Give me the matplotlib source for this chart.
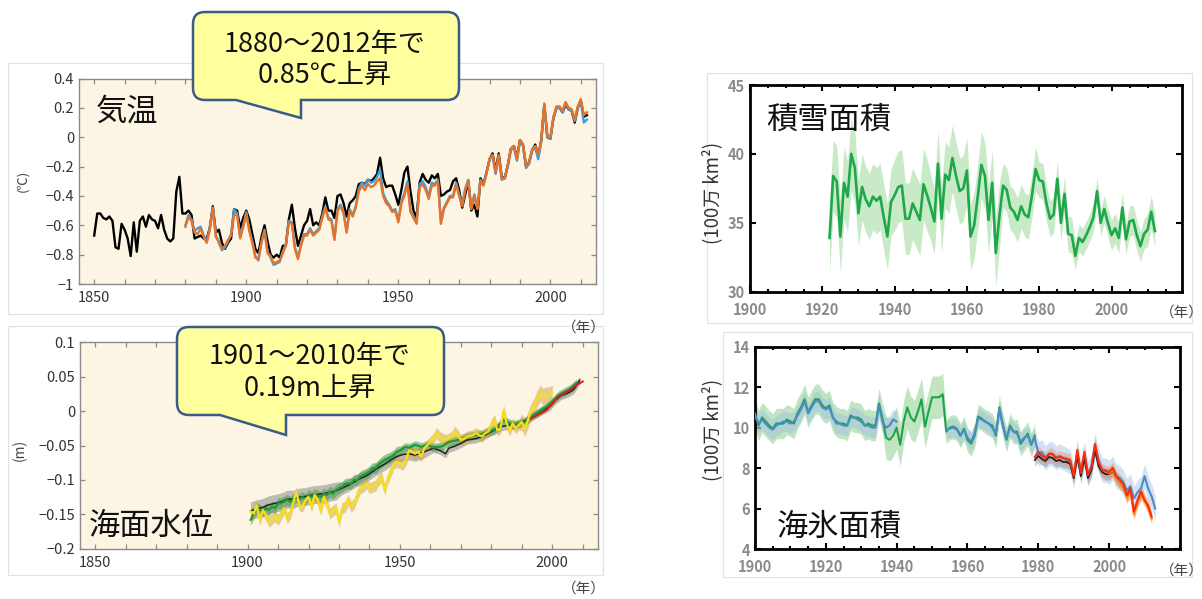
import numpy as np
import matplotlib
matplotlib.use("Agg")
import matplotlib.pyplot as plt
from matplotlib.path import Path
from matplotlib.patches import PathPatch, Rectangle
from matplotlib.ticker import FixedLocator, FuncFormatter, MultipleLocator

plt.rcParams['font.family'] = ['Noto Sans CJK JP', 'DejaVu Sans']
W, H = 1202, 599

# ---------------- data: global mean temperature anomaly (°C) ----------------
temp_black_years = np.arange(1850, 2013)
temp_black = [
    -0.67, -0.52, -0.52, -0.55, -0.56, -0.54, -0.57, -0.75, -0.76, -0.59,
    -0.63, -0.69, -0.81, -0.58, -0.78, -0.57, -0.54, -0.61, -0.53, -0.56,
    -0.57, -0.62, -0.53, -0.63, -0.69, -0.71, -0.69, -0.37, -0.27, -0.52,
    -0.52, -0.50, -0.53, -0.69, -0.68, -0.67, -0.69, -0.69, -0.62, -0.47,
    -0.65, -0.63, -0.72, -0.76, -0.72, -0.69, -0.49, -0.50, -0.62, -0.55,
    -0.50, -0.56, -0.66, -0.76, -0.79, -0.68, -0.60, -0.71, -0.80, -0.82,
    -0.80, -0.82, -0.74, -0.74, -0.56, -0.46, -0.62, -0.74, -0.67, -0.60,
    -0.57, -0.49, -0.60, -0.58, -0.60, -0.52, -0.41, -0.50, -0.50, -0.55,
    -0.40, -0.39, -0.45, -0.54, -0.45, -0.43, -0.40, -0.32, -0.31, -0.32,
    -0.29, -0.30, -0.28, -0.25, -0.14, -0.28, -0.34, -0.33, -0.33, -0.39,
    -0.46, -0.36, -0.24, -0.20, -0.37, -0.50, -0.55, -0.31, -0.25, -0.29,
    -0.31, -0.26, -0.28, -0.25, -0.40, -0.39, -0.37, -0.36, -0.30, -0.28,
    -0.36, -0.48, -0.39, -0.30, -0.50, -0.46, -0.54, -0.28, -0.32, -0.24,
    -0.15, -0.11, -0.23, -0.11, -0.27, -0.28, -0.19, -0.08, -0.06, -0.14,
    -0.02, -0.05, -0.20, -0.17, -0.09, -0.05, -0.13, -0.02, 0.22, 0.00,
    -0.01, 0.13, 0.20, 0.20, 0.17, 0.22, 0.19, 0.18, 0.10, 0.20,
    0.25, 0.14, 0.15]
temp_years = np.arange(1880, 2013)
temp_orange = [
    -0.61, -0.54, -0.57, -0.65, -0.66, -0.62, -0.68, -0.72, -0.63, -0.48,
    -0.68, -0.71, -0.76, -0.74, -0.70, -0.67, -0.53, -0.53, -0.69, -0.61,
    -0.52, -0.64, -0.72, -0.82, -0.83, -0.72, -0.64, -0.79, -0.81, -0.86,
    -0.85, -0.84, -0.79, -0.74, -0.58, -0.59, -0.76, -0.83, -0.74, -0.67,
    -0.67, -0.63, -0.67, -0.65, -0.63, -0.55, -0.48, -0.56, -0.57, -0.70,
    -0.50, -0.47, -0.52, -0.65, -0.50, -0.54, -0.48, -0.37, -0.33, -0.36,
    -0.32, -0.34, -0.33, -0.30, -0.28, -0.40, -0.45, -0.47, -0.51, -0.50,
    -0.58, -0.45, -0.40, -0.32, -0.51, -0.55, -0.59, -0.34, -0.32, -0.36,
    -0.42, -0.33, -0.33, -0.30, -0.59, -0.49, -0.45, -0.41, -0.41, -0.32,
    -0.40, -0.47, -0.36, -0.30, -0.49, -0.40, -0.49, -0.30, -0.33, -0.25,
    -0.15, -0.12, -0.24, -0.12, -0.28, -0.28, -0.19, -0.08, -0.06, -0.15,
    -0.02, -0.05, -0.20, -0.17, -0.08, -0.06, -0.12, -0.02, 0.23, 0.01,
    0.00, 0.14, 0.21, 0.21, 0.18, 0.24, 0.20, 0.19, 0.12, 0.21,
    0.26, 0.15, 0.17]
temp_blue = [
    -0.60, -0.53, -0.56, -0.64, -0.62, -0.61, -0.67, -0.71, -0.62, -0.48,
    -0.67, -0.72, -0.77, -0.75, -0.71, -0.66, -0.49, -0.52, -0.68, -0.60,
    -0.51, -0.63, -0.71, -0.81, -0.84, -0.71, -0.63, -0.78, -0.82, -0.87,
    -0.86, -0.85, -0.78, -0.73, -0.57, -0.58, -0.75, -0.82, -0.73, -0.66,
    -0.66, -0.62, -0.66, -0.64, -0.62, -0.54, -0.47, -0.55, -0.56, -0.69,
    -0.49, -0.46, -0.51, -0.64, -0.49, -0.53, -0.47, -0.35, -0.31, -0.33,
    -0.29, -0.31, -0.30, -0.27, -0.22, -0.38, -0.43, -0.46, -0.50, -0.49,
    -0.57, -0.44, -0.38, -0.30, -0.50, -0.54, -0.58, -0.32, -0.30, -0.34,
    -0.40, -0.31, -0.32, -0.29, -0.57, -0.48, -0.44, -0.40, -0.40, -0.31,
    -0.39, -0.46, -0.35, -0.29, -0.48, -0.39, -0.48, -0.29, -0.32, -0.24,
    -0.15, -0.13, -0.25, -0.13, -0.29, -0.28, -0.20, -0.09, -0.07, -0.16,
    -0.03, -0.06, -0.21, -0.18, -0.09, -0.07, -0.15, -0.03, 0.22, 0.00,
    -0.01, 0.13, 0.20, 0.20, 0.17, 0.23, 0.19, 0.18, 0.11, 0.20,
    0.24, 0.10, 0.12]

# ---------------- data: global mean sea level (m) ----------------
sl_yellow_years = [1901, 1902, 1903, 1904, 1905, 1906, 1907, 1909, 1910, 1911, 1912, 1913, 1914,
                   1916, 1917, 1918, 1919, 1920, 1921, 1922, 1923, 1924, 1925, 1926, 1927,
                   1929, 1930, 1931, 1932, 1933, 1934, 1935, 1936, 1937, 1938, 1939, 1940,
                   1942, 1943, 1944, 1945, 1946, 1947, 1948, 1949,
                   1951, 1952, 1953, 1954, 1955, 1956, 1957, 1958,
                   1960, 1961, 1962, 1963, 1964, 1965, 1966, 1967, 1968, 1969, 1970, 1971, 1972,
                   1974, 1975, 1976, 1977, 1978, 1979, 1980, 1981, 1982, 1983, 1984, 1985, 1986,
                   1987, 1988, 1989, 1990, 1991, 1992, 1993, 1994, 1995, 1996, 1997, 1998, 1999, 2000]
sl_yellow = [-0.146, -0.149, -0.137, -0.158, -0.144, -0.151, -0.161, -0.153, -0.158, -0.151, -0.141, -0.156, -0.149,
             -0.117, -0.137, -0.139, -0.129, -0.125, -0.139, -0.122, -0.129, -0.144, -0.125, -0.134, -0.149,
             -0.141, -0.161, -0.141, -0.139, -0.129, -0.139, -0.134, -0.122, -0.112, -0.110, -0.105, -0.112,
             -0.108, -0.100, -0.096, -0.115, -0.098, -0.088, -0.076, -0.074,
             -0.078, -0.071, -0.057, -0.059, -0.062, -0.059, -0.066, -0.054,
             -0.045, -0.040, -0.032, -0.037, -0.040, -0.042, -0.040, -0.037, -0.030, -0.035, -0.042, -0.040, -0.037,
             -0.035, -0.032, -0.035, -0.037, -0.032, -0.030, -0.020, -0.013, -0.028, -0.025, 0.001, -0.018, -0.028,
             -0.018, -0.025, -0.020, -0.016, -0.025, -0.013, -0.001, 0.006, 0.018, 0.026, 0.021, 0.023, 0.023, 0.026]
sl_green_years = [1901, 1902, 1903, 1905, 1906, 1907, 1908, 1909, 1910, 1911, 1913, 1914, 1915, 1916, 1917,
                  1918, 1919, 1920, 1921, 1922, 1924, 1925, 1926, 1927, 1928, 1929, 1930, 1931, 1932,
                  1934, 1935, 1936, 1937, 1938, 1939, 1940, 1941, 1942, 1943, 1944, 1945, 1947, 1948,
                  1949, 1950, 1951, 1952, 1953, 1954, 1955, 1957, 1959, 1961, 1964, 1966, 1968, 1970,
                  1972, 1975, 1977, 1979, 1981, 1983, 1984, 1987, 1989, 1991, 1993, 1995, 1998, 2000,
                  2002, 2004, 2006, 2008]
sl_green = [-0.158, -0.149, -0.141, -0.146, -0.141, -0.144, -0.139, -0.141, -0.134, -0.134, -0.129, -0.132, -0.128, -0.125, -0.128,
            -0.125, -0.128, -0.122, -0.125, -0.121, -0.125, -0.120, -0.122, -0.117, -0.120, -0.115, -0.112, -0.110, -0.106,
            -0.105, -0.100, -0.100, -0.095, -0.093, -0.091, -0.088, -0.083, -0.083, -0.078, -0.074, -0.071, -0.067, -0.064,
            -0.059, -0.057, -0.054, -0.052, -0.053, -0.051, -0.049, -0.052, -0.049, -0.053, -0.051, -0.045, -0.043, -0.041,
            -0.037, -0.035, -0.033, -0.030, -0.027, -0.018, -0.013, -0.020, -0.018, -0.016, -0.008, -0.003, 0.006, 0.014,
            0.023, 0.028, 0.033, 0.041]
sl_black_years = [1901, 1903, 1905, 1907, 1909, 1911, 1913, 1915, 1917, 1919, 1921, 1923, 1925, 1927, 1929,
                  1931, 1933, 1935, 1937, 1939, 1941, 1943, 1945, 1947, 1949, 1951, 1953, 1955, 1958, 1961,
                  1963, 1965, 1966, 1968, 1970, 1972, 1975, 1977, 1979, 1981, 1983, 1986, 1988, 1990, 1992,
                  1994, 1996, 1999, 2001, 2003, 2005, 2007, 2009]
sl_black = [-0.145, -0.142, -0.140, -0.136, -0.134, -0.132, -0.128, -0.128, -0.125, -0.124, -0.122, -0.121, -0.120, -0.118, -0.116,
            -0.112, -0.108, -0.103, -0.098, -0.094, -0.088, -0.082, -0.077, -0.071, -0.066, -0.063, -0.062, -0.064, -0.059, -0.054,
            -0.057, -0.062, -0.054, -0.051, -0.047, -0.042, -0.040, -0.037, -0.032, -0.028, -0.023, -0.020, -0.020, -0.016, -0.012,
            -0.006, -0.001, 0.006, 0.016, 0.023, 0.026, 0.031, 0.045]
sl_red_years = [1993, 1995, 1998, 2000, 2002, 2004, 2006, 2008, 2010]
sl_red = [-0.011, -0.006, 0.001, 0.011, 0.021, 0.026, 0.031, 0.038, 0.043]
# approximate half-widths of the uncertainty bands by era (start year, value)
sl_gray_err_start, sl_gray_err = [1900, 1930, 1960], [0.013, 0.009, 0.006]
sl_green_err_start, sl_green_err = [1900, 1950], [0.008, 0.006]
sl_yellow_err_start, sl_yellow_err = [1900, 1950, 1990], [0.008, 0.008, 0.012]

# ---------------- data: Northern Hemisphere spring snow cover (million km2) ----------------
snow_years = np.arange(1922, 2013)
snow = [33.9, 38.4, 38.0, 34.0, 37.9, 36.9, 40.0, 39.0,
        35.7, 37.6, 36.7, 36.2, 36.9, 36.6, 36.9, 35.4, 34.0, 36.5,
        37.0, 37.6, 37.7, 35.3, 35.3, 36.4, 35.8, 35.2, 37.8, 37.0,
        36.1, 35.1, 39.3, 35.3, 38.5, 38.1, 39.7, 38.4, 37.3, 37.5,
        38.8, 34.0, 34.8, 36.9, 39.2, 38.4, 35.2, 37.9, 32.8, 35.5,
        37.7, 37.4, 36.1, 35.8, 35.2, 36.2, 35.6, 35.4, 37.0, 38.9,
        38.1, 38.0, 36.4, 35.3, 35.6, 38.2, 35.0, 37.1, 34.2, 34.1,
        32.6, 33.9, 33.6, 34.1, 34.7, 35.4, 37.3, 35.0, 36.0, 35.0,
        34.1, 34.6, 33.9, 36.1, 33.8, 35.1, 35.2, 34.1, 33.3, 34.2,
        34.5, 35.8, 34.4]
snow_err_start = [1920, 1930, 1940, 1950, 1960, 1970, 1980, 1990, 2000, 2010]
snow_err = [2.6, 2.4, 2.6, 2.4, 2.4, 1.6, 1.3, 1.0, 1.1, 1.2]

# ---------------- data: Arctic summer sea-ice extent (million km2) ----------------
ice_green_years = np.arange(1900, 1980)
ice_green = [10.7, 10.1, 10.5, 10.3, 10.1, 9.95, 10.2, 10.2, 10.2, 10.4,
             10.3, 10.2, 10.7, 11.0, 11.4, 10.75, 11.1, 11.4, 11.4, 11.1,
             10.95, 11.1, 10.5, 10.3, 10.2, 10.2, 10.1, 10.6, 10.5, 10.5,
             10.4, 10.1, 10.2, 10.1, 10.1, 11.2, 10.45, 9.5, 9.4, 9.6,
             10.0, 9.15, 10.3, 11.0, 10.5, 10.3, 10.8, 11.4, 10.05, 10.8,
             11.5, 11.5, 11.5, 11.65, 9.8, 10.0, 10.05, 9.95, 9.6, 9.95,
             9.4, 9.2, 9.6, 10.55, 10.45, 10.3, 10.2, 10.1, 9.6, 11.0,
             10.1, 9.4, 10.1, 9.8, 9.8, 9.2, 9.45, 9.7, 9.15, 9.6]
ice_blue_years_a = np.arange(1900, 1941)
ice_blue_a = [10.6, 10.2, 10.4, 10.2, 10.0, 9.9, 10.1, 10.2, 10.3, 10.3,
              10.2, 10.3, 10.6, 10.9, 11.3, 10.7, 11.0, 11.3, 11.3, 11.0,
              10.9, 11.0, 10.5, 10.2, 10.2, 10.1, 10.1, 10.5, 10.5, 10.4,
              10.3, 10.1, 10.1, 10.0, 10.0, 11.1, 10.3, 10.0, 10.1, 10.4,
              10.3]
ice_blue_years_b = np.arange(1954, 2014)
ice_blue_b = [9.9, 9.95, 10.0, 9.9, 9.6, 9.9,
              9.5, 9.3, 9.7, 10.5, 10.4, 10.3, 10.2, 10.0, 9.7, 10.9,
              10.1, 9.5, 10.0, 9.8, 9.7, 9.3, 9.5, 9.6, 9.2, 9.5,
              8.7, 8.8, 8.5, 8.7, 8.7, 8.5, 8.6, 8.5, 8.4, 8.3,
              7.6, 8.8, 7.8, 8.7, 7.7, 8.1, 9.1, 8.4, 7.9, 7.9,
              7.8, 8.0, 7.6, 7.5, 7.3, 6.9, 7.1, 6.5, 6.8, 7.0,
              7.6, 7.0, 6.6, 6.0]
ice_red_years = np.arange(1979, 2013)
ice_red = [8.55,
           8.8, 8.6, 8.5, 8.7, 8.7, 8.5, 8.55, 8.5, 8.45, 8.4,
           7.6, 8.9, 7.75, 8.8, 7.65, 8.05, 9.2, 8.3, 7.9, 7.85,
           7.8, 8.0, 7.6, 7.4, 7.2, 6.65, 7.0, 5.85, 6.4, 6.85,
           6.4, 6.15, 5.6]
ice_black_years = np.arange(1979, 2006)
ice_black = [8.4,
             8.6, 8.45, 8.35, 8.55, 8.5, 8.35, 8.4, 8.3, 8.3, 8.2,
             7.5, 8.6, 7.6, 8.5, 7.5, 7.9, 8.9, 8.1, 7.8, 7.7,
             7.7, 7.85, 7.5, 7.3, 7.1, 6.6]
ice_orange_years = np.arange(2000, 2013)
ice_orange = [7.75, 7.9, 7.5, 7.3, 7.1, 6.55, 6.9, 5.7, 6.3, 6.7, 6.45, 6.05, 5.5]
ice_green_err_start, ice_green_err = [1900, 1937, 1954], [0.75, 1.05, 0.6]
ice_blue_err_start, ice_blue_err = [1900, 1954, 1980], [0.5, 0.45, 0.6]
ice_sat_err = 0.3


def era(years, starts, vals):
    idx = np.searchsorted(np.asarray(starts), np.asarray(years), side='right') - 1
    return np.asarray(vals)[idx]


def xy(years, vals):
    n = min(len(years), len(vals))
    return np.asarray(years[:n], dtype=float), np.asarray(vals[:n], dtype=float)


# ---------------- figure ----------------
fig = plt.figure(figsize=(W / 100, H / 100), dpi=100)
fig.patch.set_facecolor('white')


def px_axes(l, t, r, b, z=2):
    ax = fig.add_axes([l / W, 1 - b / H, (r - l) / W, (b - t) / H])
    ax.set_zorder(z)
    return ax


under = px_axes(0, 0, W, H, z=0)
under.set_xlim(0, W)
under.set_ylim(H, 0)
under.axis('off')
for (l, t, r, b) in [(8, 63, 603, 314), (8, 326, 603, 575), (707, 73, 1192, 323), (723, 332, 1192, 577)]:
    under.add_patch(Rectangle((l, t), r - l, b - t, facecolor='white', edgecolor='#e2e2e2', lw=0.9))

fmt_minus = FuncFormatter(lambda v, p: f'{(round(v, 3) + 0.0):g}'.replace('-', '\u2212'))


def style_left(ax, ylim, yticks):
    ax.set_facecolor('#fcf5e4')
    for s in ax.spines.values():
        s.set_color('#8a8a8a')
        s.set_linewidth(1.0)
    ax.set_xlim(1845, 2015)
    ax.set_ylim(*ylim)
    ax.xaxis.set_major_locator(FixedLocator([1850, 1900, 1950, 2000]))
    ax.xaxis.set_minor_locator(MultipleLocator(10))
    ax.yaxis.set_major_locator(FixedLocator(yticks))
    ax.yaxis.set_major_formatter(fmt_minus)
    ax.tick_params(which='both', direction='in', top=True, right=True, color='#8a8a8a',
                   length=3.8, width=0.9, labelsize=10.5, labelcolor='#333333')
    ax.tick_params(axis='x', which='both', pad=5)


def style_right(ax, xlim, ylim, yticks, xminor):
    ax.set_facecolor('white')
    for s in ax.spines.values():
        s.set_color('black')
        s.set_linewidth(2.0)
    ax.set_xlim(*xlim)
    ax.set_ylim(*ylim)
    ax.xaxis.set_major_locator(FixedLocator(list(range(1900, 2001, 20))))
    ax.xaxis.set_minor_locator(MultipleLocator(xminor))
    ax.yaxis.set_major_locator(FixedLocator(yticks))
    ax.tick_params(which='both', direction='in', top=True, right=True, color='black',
                   width=1.5, length=4, labelsize=10.5, labelcolor='#8a8a8a')
    ax.tick_params(which='minor', length=2.5)
    ax.tick_params(axis='x', which='both', pad=7.5)
    plt.setp(ax.get_xticklabels() + ax.get_yticklabels(), fontweight='bold')


# ---- temperature ----
ax1 = px_axes(79, 78.5, 596, 284)
style_left(ax1, (-1, 0.4), [-1, -0.8, -0.6, -0.4, -0.2, 0, 0.2, 0.4])
ax1.plot(*xy(temp_black_years, temp_black), color='black', lw=1.7, zorder=3)
ax1.plot(*xy(temp_years, temp_blue), color='#3aa0dc', lw=1.7, zorder=4)
ax1.plot(*xy(temp_years, temp_orange), color='#e8712c', lw=1.7, zorder=5)

# ---- sea level ----
ax2 = px_axes(80, 342.3, 598, 548.7)
style_left(ax2, (-0.2, 0.1), [-0.2, -0.15, -0.1, -0.05, 0, 0.05, 0.1])
bx, by = xy(sl_black_years, sl_black)
e = era(bx, sl_gray_err_start, sl_gray_err)
ax2.fill_between(bx, by - e, by + e, color='#8c8c8c', alpha=0.55, lw=0, zorder=2)
gx, gy = xy(sl_green_years, sl_green)
e = era(gx, sl_green_err_start, sl_green_err)
ax2.fill_between(gx, gy - e, gy + e, color='#3f9f4a', alpha=0.55, lw=0, zorder=3)
yx, yy = xy(sl_yellow_years, sl_yellow)
e = era(yx, sl_yellow_err_start, sl_yellow_err)
ax2.fill_between(yx, yy - e, yy + e, color='#d4a03c', alpha=0.5, lw=0, zorder=4)
ax2.plot(bx, by, color='#222222', lw=1.1, zorder=5)
ax2.plot(gx, gy, color='#23963a', lw=1.6, zorder=6)
ax2.plot(yx, yy, color='#f5e11a', lw=1.6, zorder=7)
ax2.plot(*xy(sl_red_years, sl_red), color='#e3161b', lw=1.4, zorder=8)

# ---- snow cover ----
ax3 = px_axes(750, 85, 1182, 291.7)
style_right(ax3, (1900, 2019.5), (30, 45), [30, 35, 40, 45], 5)
sx, sy = xy(snow_years, snow)
e = era(sx, snow_err_start, snow_err)
ax3.fill_between(sx, sy - e, sy + e, color='#a6dca2', alpha=0.6, lw=0, zorder=2)
ax3.plot(sx, sy, color='#1ea84a', lw=1.9, zorder=3)

# ---- sea ice ----
ax4 = px_axes(755, 346.7, 1180, 549)
style_right(ax4, (1900, 2020), (4, 14), [4, 6, 8, 10, 12, 14], 5)
gx, gy = xy(ice_green_years, ice_green)
e = era(gx, ice_green_err_start, ice_green_err)
ax4.fill_between(gx, gy - e, gy + e, color='#8fd08f', alpha=0.55, lw=0, zorder=2)
for yrs, vals in [(ice_blue_years_a, ice_blue_a), (ice_blue_years_b, ice_blue_b)]:
    px_, py_ = xy(yrs, vals)
    e = era(px_, ice_blue_err_start, ice_blue_err)
    ax4.fill_between(px_, py_ - e, py_ + e, color='#9dbde6', alpha=0.45, lw=0, zorder=2)
kx, ky = xy(ice_black_years, ice_black)
ax4.fill_between(kx, ky - ice_sat_err, ky + ice_sat_err, color='#777777', alpha=0.35, lw=0, zorder=3)
rx, ry = xy(ice_red_years, ice_red)
ax4.fill_between(rx, ry - ice_sat_err, ry + ice_sat_err, color='#ff7a50', alpha=0.35, lw=0, zorder=3)
ox, oy = xy(ice_orange_years, ice_orange)
ax4.fill_between(ox, oy - ice_sat_err, oy + ice_sat_err, color='#ffa040', alpha=0.45, lw=0, zorder=3)
ax4.plot(gx, gy, color='#1fa34a', lw=1.5, zorder=4)
for yrs, vals in [(ice_blue_years_a, ice_blue_a), (ice_blue_years_b, ice_blue_b)]:
    ax4.plot(*xy(yrs, vals), color='#4a8cc8', lw=1.5, zorder=5)
ax4.plot(kx, ky, color='#222222', lw=1.3, zorder=6)
ax4.plot(ox, oy, color='#ff8a1c', lw=1.6, zorder=7)
ax4.plot(rx, ry, color='#ff2a0a', lw=1.5, zorder=8)

# ---------------- overlay: titles, labels, callouts ----------------
ov = px_axes(0, 0, W, H, z=10)
ov.set_xlim(0, W)
ov.set_ylim(H, 0)
ov.axis('off')

ttl = dict(fontsize=22.5, va='center', ha='left', color='#111111')
ov.text(96, 112, '気温', **ttl)
ov.text(89, 526, '海面水位', **ttl)
ov.text(766, 120, '積雪面積', **ttl)
ov.text(777, 527, '海氷面積', **ttl)

ov.text(23, 181, '(℃)', fontsize=9.5, rotation=90, ha='center', va='center', color='#444444')
ov.text(20, 450, '(m)', fontsize=10, rotation=90, ha='center', va='center', color='#444444')
ov.text(713, 193, '(100万 km²)', fontsize=13.5, rotation=90, ha='center', va='center', color='#333333')
ov.text(713, 430, '(100万 km²)', fontsize=13.5, rotation=90, ha='center', va='center', color='#333333')

yr = dict(fontsize=10.5, ha='right', va='center', color='#444444')
ov.text(606, 328, '（年）', **yr)
ov.text(606, 589, '（年）', **yr)
ov.text(1204, 313, '（年）', **yr)
ov.text(1204, 571, '（年）', **yr)


def bubble(l, t, r, b, x1, tipx, tipy, rad=12):
    verts = [(l + rad, t), (r - rad, t), (r, t), (r, t + rad), (r, b - rad), (r, b), (r - rad, b),
             (tipx, b), (tipx, tipy), (x1, b), (l + rad, b), (l, b), (l, b - rad), (l, t + rad),
             (l, t), (l + rad, t), (l + rad, t)]
    codes = [Path.MOVETO, Path.LINETO, Path.CURVE3, Path.CURVE3, Path.LINETO, Path.CURVE3, Path.CURVE3,
             Path.LINETO, Path.LINETO, Path.LINETO, Path.LINETO, Path.CURVE3, Path.CURVE3, Path.LINETO,
             Path.CURVE3, Path.CURVE3, Path.CLOSEPOLY]
    ov.add_patch(PathPatch(Path(verts, codes), facecolor='#ffff9e', edgecolor='#3b5a86',
                           lw=1.8, joinstyle='miter'))


bubble(193, 12, 459, 100, 236, 301, 118)
bubble(177, 327, 444, 415, 220, 286, 435)
btxt = dict(fontsize=19.5, ha='center', va='center', color='#111111')
ov.text(325, 44, '1880～2012年で', **btxt)
ov.text(325, 75, '0.85℃上昇', **btxt)
ov.text(310, 357, '1901～2010年で', **btxt)
ov.text(310, 388, '0.19m上昇', **btxt)

fig.savefig('out.png', dpi=100, facecolor='white')
